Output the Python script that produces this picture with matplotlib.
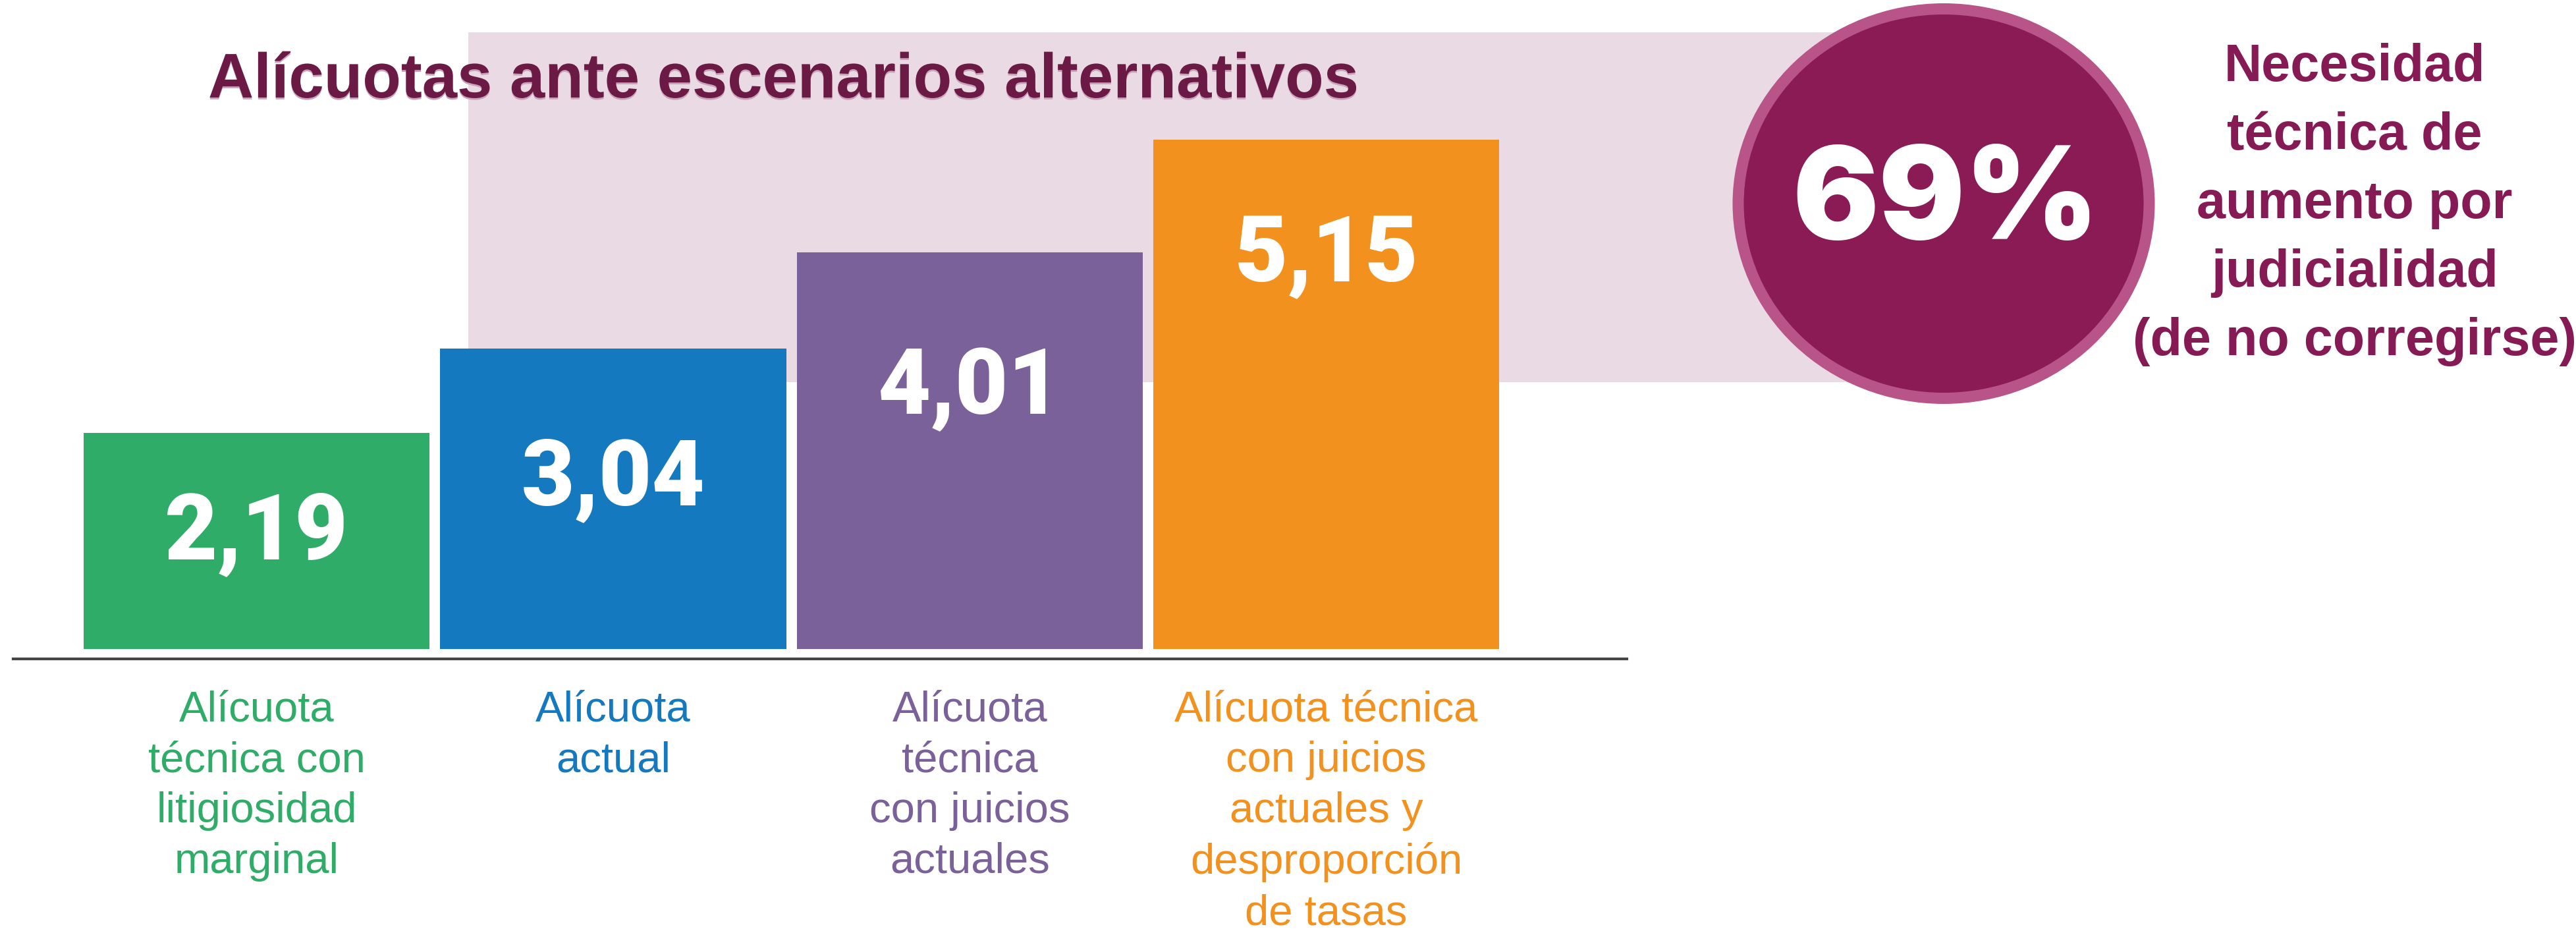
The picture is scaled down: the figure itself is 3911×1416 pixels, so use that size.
import matplotlib
matplotlib.use("Agg")
import matplotlib.pyplot as plt
import matplotlib.patheffects as pe
from matplotlib.patches import Rectangle, Ellipse

W, H = 3911, 1416

title = "Alícuotas ante escenarios alternativos"
categories = [
    "Alícuota\ntécnica con\nlitigiosidad\nmarginal",
    "Alícuota\nactual",
    "Alícuota\ntécnica\ncon juicios\nactuales",
    "Alícuota técnica\ncon juicios\nactuales y\ndesproporción\nde tasas",
]
values = [2.19, 3.04, 4.01, 5.15]
bar_colors = ["#2FAD68", "#1479BF", "#7B6199", "#F3911F"]
highlight_value = "69%"
highlight_text = "Necesidad\ntécnica de\naumento por\njudicialidad\n(de no corregirse)"

# how far below each bar top the value label baseline sits (data units)
label_drop = [1.28, 1.58, 1.63, 1.43]


def fx(px):
    return px / W


def fy(py):
    return 1 - py / H


fig = plt.figure(figsize=(W / 100, H / 100), dpi=100)
fig.patch.set_facecolor("white")

# pale backdrop behind the chart
fig.add_artist(Rectangle((fx(711), fy(580)), fx(2820) - fx(711), fy(49) - fy(580),
                         transform=fig.transFigure, facecolor="#E9DAE3",
                         edgecolor="none", zorder=-5))

# bar axes: y=0 at 985px, 150 px per unit
ax = fig.add_axes([fx(20), fy(1000), fx(2470) - fx(20), fy(50) - fy(1000)])
ax.patch.set_alpha(0)
x = list(range(len(values)))
ax.bar(x, values, width=0.97, color=bar_colors, zorder=2)
ax.set_xlim(-0.683, 3.843)
ax.set_ylim(-0.10, (985 - 50) / 150)
for s in ["top", "right", "left"]:
    ax.spines[s].set_visible(False)
ax.spines["bottom"].set_color("#454545")
ax.spines["bottom"].set_linewidth(3)
ax.set_yticks([])
ax.set_xticks(x, categories)
ax.tick_params(axis="x", length=0, pad=34)
for lbl, c in zip(ax.get_xticklabels(), bar_colors):
    lbl.set_color(c)
    lbl.set_fontsize(47)
    lbl.set_family("Liberation Sans")
    lbl.set_linespacing(1.36)
    lbl.set_multialignment("center")

for xi, v, d in zip(x, values, label_drop):
    ax.text(xi, v - d, f"{v:.2f}".replace(".", ","), ha="center", va="baseline",
            color="white", fontsize=100, family="Roboto", fontweight="black", zorder=3)

fig.text(fx(316), fy(148), title, ha="left", va="baseline", fontsize=69,
         family="Liberation Sans", fontweight="bold", color="#6B1A45",
         path_effects=[pe.withSimplePatchShadow(offset=(0, -2), shadow_rgbFace="#C9A3BA", alpha=1)])

# highlight circle
fig.add_artist(Ellipse((fx(2951), fy(309)), fx(641), 608 / H, transform=fig.transFigure,
                       facecolor="#B85488", edgecolor="none", zorder=1))
fig.add_artist(Ellipse((fx(2951), fy(309)), fx(607), 574 / H, transform=fig.transFigure,
                       facecolor="#8A1B55", edgecolor="none", zorder=2))
fig.text(fx(2954), fy(363), highlight_value, ha="center", va="baseline", fontsize=140,
         family="Inter", fontweight="black", color="white", zorder=3)

fig.text(fx(3575), fy(65), highlight_text, ha="center", va="top", fontsize=57,
         family="Liberation Sans", fontweight="bold", color="#861A55",
         linespacing=1.5, multialignment="center")

fig.savefig("out.png", dpi=100)
